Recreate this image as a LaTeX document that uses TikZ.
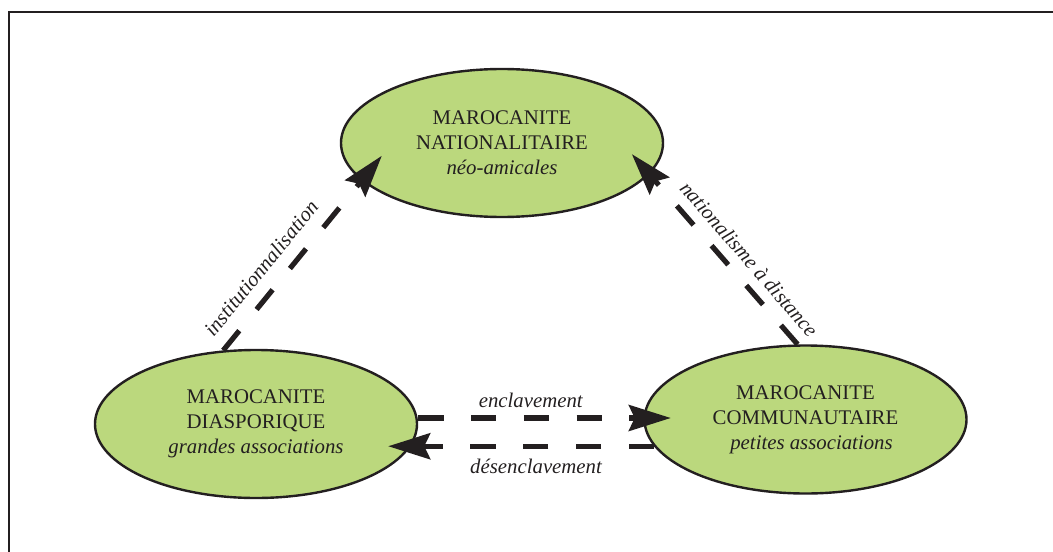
\documentclass[tikz,border=0pt]{standalone}
\usepackage{fontspec}
\setmainfont{Liberation Serif}
\usetikzlibrary{arrows.meta,shapes.geometric}
\definecolor{leaf}{RGB}{187,216,125}
\definecolor{ink}{RGB}{35,31,32}

\begin{document}
\begin{tikzpicture}[
  x=0.5pt, y=-0.5pt,
  every node/.style={font=\fontsize{10.4}{12.5}\selectfont, text=ink},
  pole/.style={
    draw=ink,
    fill=leaf,
    line width=1.2pt,
    ellipse,
    minimum width=161pt,
    minimum height=74pt,
    inner sep=0pt,
    align=center
  },
  link/.style={
    -{Stealth[length=21pt,width=13pt,inset=3pt]},
    draw=ink,
    line width=2.6pt,
    dash pattern=on 12.7pt off 13.7pt
  },
  tag/.style={font=\fontsize{10.4}{12.5}\selectfont\itshape}
]
\useasboundingbox (0,0) rectangle (1053,551);
\draw[ink, line width=1.25pt] (9,570) -- (9,12) -- (1070,12);

\node[pole] (nat) at (502,143) {MAROCANITE\\NATIONALITAIRE\\\textit{néo-amicales}};
\node[pole] (dia) at (256,424) {MAROCANITE\\DIASPORIQUE\\\textit{grandes associations}};
\node[pole] (com) at (805.5,419.5) {MAROCANITE\\COMMUNAUTAIRE\\\hspace*{6pt}\textit{petites associations}};

\draw[link, shorten >=-16pt] (dia.114) -- node[tag, pos=0.40, sloped, above=3pt] {institutionnalisation} (nat.195.6);
\draw[link, shorten >=-13.4pt] (com.96.6) -- node[tag, pos=0.427, sloped, above=1.5pt] {nationalisme à distance} (nat.348.3);
\draw[link, shorten >=-13.75pt] ([yshift=3pt]dia.east) -- node[tag, above=0.7pt] {enclavement} ([yshift=3pt]dia.east -| com.west);
\draw[link, shorten >=-15pt] (com.190) -- node[tag, below=2pt] {désenclavement} (com.190 -| dia.east);
\end{tikzpicture}
\end{document}
